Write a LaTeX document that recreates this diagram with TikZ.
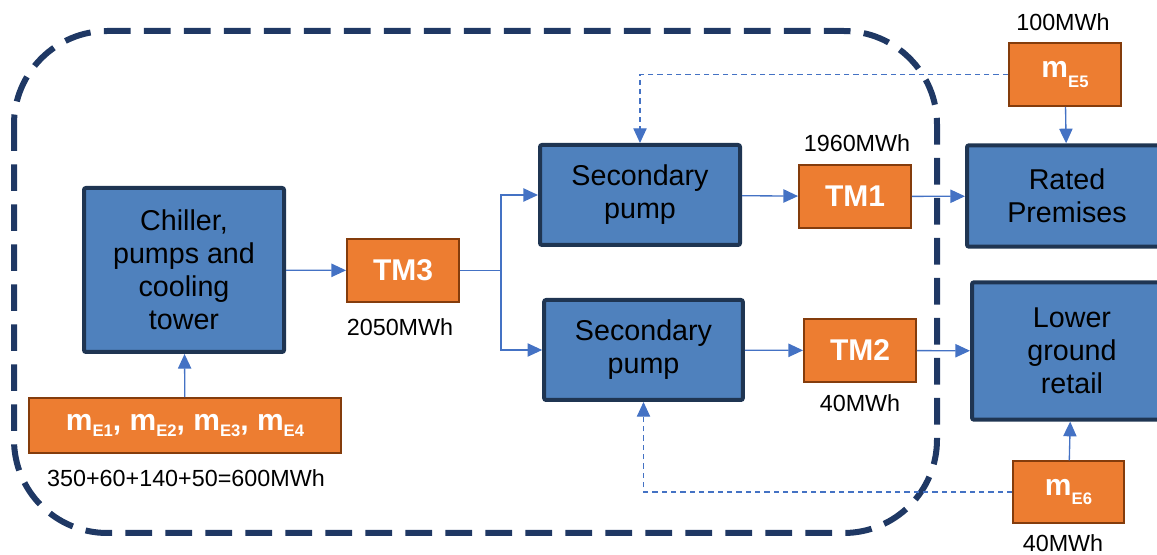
\documentclass[tikz,border=0pt]{standalone}
\usepackage{fontspec}
\setmainfont{Liberation Sans}
\usetikzlibrary{arrows.meta}
\definecolor{boxblue}{HTML}{4F81BD}
\definecolor{boxnavy}{HTML}{1F3552}
\definecolor{meterorange}{HTML}{ED7D31}
\definecolor{meterbrown}{HTML}{843C0C}
\definecolor{flowblue}{HTML}{4472C4}
\definecolor{loopnavy}{HTML}{1F3864}
\newcommand{\Meter}[2]{m\raisebox{-#2}{\fontsize{12.5}{12.5}\selectfont E#1}}
\tikzset{
  unit/.style={draw=boxnavy, line width=3pt, fill=boxblue, rounded corners=1.5pt,
    font=\fontsize{21.5}{24.75}\selectfont, align=center, inner sep=0pt},
  meter/.style={draw=meterbrown, line width=1.4pt, fill=meterorange, text=white,
    font=\fontsize{22.5}{24}\selectfont\bfseries, inner sep=0pt},
  value/.style={font=\fontsize{17.5}{20}\selectfont},
  flow/.style={draw=flowblue, line width=1pt, -{Triangle[length=11pt,width=10pt]}},
  feed/.style={flow, dash pattern=on 4pt off 3pt, line width=0.8pt}
}

\begin{document}
\begin{tikzpicture}[x=0.75pt, y=-0.75pt]
\useasboundingbox (0,0) rectangle (1157,555);

% boundary of the plant
\draw[loopnavy, line width=4.5pt, dash pattern=on 20pt off 10pt, rounded corners=70pt] (14,31) rectangle (937,533);

% units
\draw(184,270) node[unit, minimum width=150pt, minimum height=123pt] (CH) {Chiller,\\pumps and\\cooling\\tower};
\draw(640,195) node[unit, minimum width=150pt, minimum height=75pt] (SP1) {Secondary\\pump};
\draw(643.5,350) node[unit, minimum width=149pt, minimum height=75pt] (SP2) {Secondary\\pump};
\draw(1067,196) node[unit, minimum width=150pt, minimum height=76pt] (RP) {Rated\\Premises};
\draw(1072,351) node[unit, minimum width=150pt, minimum height=103pt] (LG) {Lower\\ground\\retail};

% meters
\draw(403,270.5) node[meter, minimum width=84pt, minimum height=47pt] (TM3) {TM3};
\draw(855,196.5) node[meter, minimum width=84pt, minimum height=47pt] (TM1) {TM1};
\draw(860,350.5) node[meter, minimum width=84pt, minimum height=47pt] (TM2) {TM2};
\draw(1065,74.5) node[meter, minimum width=84pt, minimum height=47pt] (E5) {\Meter{5}{7pt}};
\draw(1068.5,492) node[meter, minimum width=83pt, minimum height=46pt] (E6) {\Meter{6}{7pt}};
\draw(185,425.5) node[meter, minimum width=234pt, minimum height=41pt] (E14) {\Meter{1}{4pt}, \Meter{2}{4pt}, \Meter{3}{4pt}, \Meter{4}{4pt}};

% energy values
\draw(400,327) node[value] (v3) {2050MWh};
\draw(857,143) node[value] (v1) {1960MWh};
\draw(860,403) node[value] (v2) {40MWh};
\draw(1063,22) node[value] (v5) {100MWh};
\draw(1063,543) node[value] (v6) {40MWh};
\draw(186,478) node[value] (v14) {350+60+140+50=600MWh};

% flows
\draw[flow] (E14) -- (CH);
\draw[flow] (CH) -- (TM3);
\draw[flow] (TM3.east) -- ++(41,0) |- (SP1.west);
\draw[flow] (TM3.east) -- ++(41,0) |- (SP2.west);
\draw[flow] (SP1) -- (TM1);
\draw[flow] (TM1) -- (RP);
\draw[flow] (SP2) -- (TM2);
\draw[flow] (TM2) -- (LG);
\draw[flow] (E5) -- (RP);
\draw[flow] (E6) -- (LG);
\draw[feed] (E5.west) -| (SP1.north);
\draw[feed] (E6.west) -| (SP2.south);

\end{tikzpicture}
\end{document}
